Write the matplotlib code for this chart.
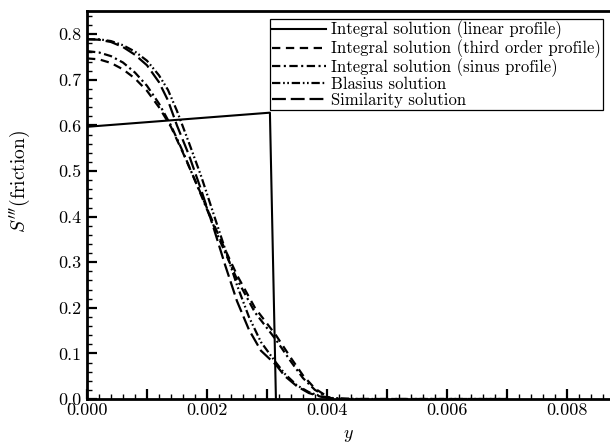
import matplotlib
matplotlib.use("Agg")
import matplotlib.pyplot as plt
from matplotlib.ticker import MultipleLocator, FuncFormatter

plt.rcParams['font.family'] = 'serif'
plt.rcParams['font.serif'] = ['cmr10', 'DejaVu Serif']
plt.rcParams['mathtext.fontset'] = 'cm'
plt.rcParams['axes.formatter.use_mathtext'] = True
plt.rcParams['lines.scale_dashes'] = False

# linear profile
lin_y = [0.0, 0.00305, 0.00315]
lin_s = [0.597, 0.628, 0.0]

# third order profile
third_y = [0.0, 0.0002, 0.0004, 0.0006, 0.0008, 0.0010, 0.0012, 0.0014, 0.0016,
           0.0019, 0.0022, 0.0025, 0.0028, 0.00315, 0.0034, 0.0036, 0.0038,
           0.0040, 0.0041]
third_s = [0.747, 0.745, 0.737, 0.723, 0.703, 0.676, 0.640, 0.597, 0.540,
           0.450, 0.357, 0.272, 0.200, 0.140, 0.090, 0.052, 0.023,
           0.006, 0.0]

# sinus profile
sin_y = [0.0, 0.0002, 0.0004, 0.0006, 0.0008, 0.0010, 0.0012, 0.0014, 0.0016,
         0.0019, 0.0022, 0.0025, 0.0028, 0.00315, 0.0034, 0.0036, 0.0038,
         0.0040, 0.0041]
sin_s = [0.763, 0.760, 0.752, 0.738, 0.716, 0.687, 0.648, 0.600, 0.542,
         0.448, 0.352, 0.263, 0.190, 0.130, 0.082, 0.046, 0.020,
         0.005, 0.0]

# Blasius
bla_y = [0.0, 0.0002, 0.0004, 0.0006, 0.0008, 0.0010, 0.0012, 0.00135, 0.0015,
         0.0017, 0.0019, 0.0021, 0.0023, 0.0025, 0.0027, 0.0029, 0.00315,
         0.0033, 0.0035, 0.0037, 0.0039, 0.0041, 0.0045, 0.0070]
bla_s = [0.789, 0.789, 0.785, 0.776, 0.762, 0.742, 0.710, 0.678, 0.632,
         0.562, 0.490, 0.410, 0.330, 0.250, 0.180, 0.125, 0.080,
         0.055, 0.030, 0.015, 0.006, 0.002, 0.0, 0.0]

# similarity
sim_y = [0.0, 0.0002, 0.0004, 0.0006, 0.0008, 0.0010, 0.0012, 0.00135, 0.0015,
         0.0017, 0.0019, 0.0021, 0.0023, 0.0025, 0.0027, 0.0029, 0.00315,
         0.0033, 0.0035, 0.0037, 0.0039, 0.0041, 0.0043, 0.0070]
sim_s = [0.789, 0.788, 0.783, 0.772, 0.755, 0.732, 0.695, 0.655, 0.600,
         0.535, 0.460, 0.380, 0.295, 0.215, 0.152, 0.106, 0.075,
         0.050, 0.028, 0.013, 0.005, 0.001, 0.0, 0.0]

fig = plt.figure(figsize=(6.1, 4.47), dpi=100)
ax = fig.add_axes([0.1426, 0.1074, 0.8574, 0.868])

lw = 1.6
ax.plot(lin_y, lin_s, color='black', lw=1.5, label='Integral solution (linear profile)')
ax.plot(third_y, third_s, color='black', lw=lw, dashes=(6, 4),
        label='Integral solution (third order profile)')
ax.plot(sin_y, sin_s, color='black', lw=lw, dashes=(6, 2.5, 1.5, 2.5),
        label='Integral solution (sinus profile)')
ax.plot(bla_y, bla_s, color='black', lw=lw, dashes=(6, 2, 1.2, 1.8, 1.2, 2),
        label='Blasius solution')
ax.plot(sim_y, sim_s, color='black', lw=lw, dashes=(10, 3.5),
        label='Similarity solution')

ax.set_xlim(0, 0.00872)
ax.set_ylim(0, 0.851)

ax.xaxis.set_major_locator(MultipleLocator(0.001))
ax.xaxis.set_minor_locator(MultipleLocator(0.0002))
ax.xaxis.set_major_formatter(FuncFormatter(
    lambda v, p: f"{v:.3f}" if round(v / 0.001) % 2 == 0 else ""))
ax.yaxis.set_major_locator(MultipleLocator(0.1))
ax.yaxis.set_minor_locator(MultipleLocator(0.02))
ax.yaxis.set_major_formatter(FuncFormatter(lambda v, p: f"{v:.1f}"))

ax.tick_params(which='major', direction='in', length=7, width=1.6,
               labelsize=13, pad=4, top=False, right=False)
ax.tick_params(axis='x', which='major', pad=3)
ax.tick_params(which='minor', direction='in', length=3.5, width=1.0,
               top=False, right=False)

for side in ['left', 'bottom', 'top']:
    ax.spines[side].set_linewidth(2.0)
ax.spines['right'].set_visible(False)

ax.set_xlabel('$y$', fontsize=13, labelpad=7)
ax.set_ylabel("$S'''$(friction)", fontsize=14, labelpad=10)
ax.yaxis.set_label_coords(-0.105, 0.56)

leg = ax.legend(loc='upper right', bbox_to_anchor=(0.988, 0.958),
                bbox_transform=fig.transFigure, fontsize=12,
                handlelength=3.2, handletextpad=0.3, labelspacing=0.0,
                borderpad=0.12, borderaxespad=0.0, fancybox=False,
                edgecolor='black', framealpha=1)
leg.get_frame().set_linewidth(0.9)

fig.savefig('out.png', dpi=100)
